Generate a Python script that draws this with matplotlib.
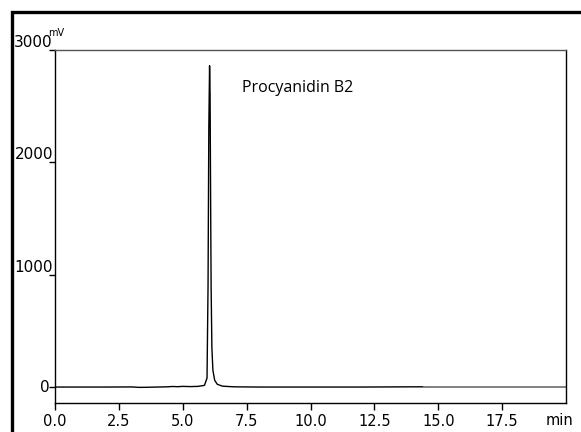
import matplotlib
matplotlib.use("Agg")
import matplotlib.pyplot as plt
from matplotlib.patches import Rectangle

# data (retention time in min, signal in mV)
time_min = [0.0, 1.0, 2.0, 3.0, 3.3, 3.6, 4.0, 4.4, 4.6, 4.8, 5.0, 5.3, 5.6, 5.85,
            5.95, 5.99, 6.02, 6.05, 6.07, 6.09, 6.11, 6.14, 6.18, 6.25, 6.35,
            6.55, 7.0, 8.0, 10.0, 12.0, 14.0, 14.45, 16.0, 18.0, 20.0]
signal_mv = [0, 0, 0, 1, -3, -2, 0, 2, 5, 3, 6, 4, 6, 15,
             80, 900, 2300, 2860, 2600, 1700, 900, 350, 150, 60, 25,
             8, 2, 0, 0, 0, 2, 2, 2, 2, 2]
x_ticks = [0.0, 2.5, 5.0, 7.5, 10.0, 12.5, 15.0, 17.5]
x_tick_labels = ["0.0", "2.5", "5.0", "7.5", "10.0", "12.5", "15.0", "17.5"]
y_ticks = [0, 1000, 2000, 3000]
y_tick_labels = ["0", "1000", "2000", "3000"]
peak_label = "Procyanidin B2"

W, H = 581, 432
fig = plt.figure(figsize=(W / 100, H / 100), dpi=100)
ax = fig.add_axes([55 / W, 1 - 403 / H, (566 - 55) / W, (403 - 50) / H])

# outer frame
fig.patches.append(Rectangle((12 / W, -0.1), 1.2, 1 - 12 / H + 0.1,
                             transform=fig.transFigure, fill=False,
                             edgecolor="black", linewidth=2.4))

split = time_min.index(14.45)
ax.plot(time_min[:split + 1], signal_mv[:split + 1], color="black", linewidth=1.0)
ax.plot(time_min[split:], signal_mv[split:], color="#808080", linewidth=1.4)
ax.set_xlim(0, 20)
ax.set_ylim(-142, 3000)

ax.set_xticks(x_ticks)
ax.set_xticklabels(x_tick_labels, fontsize=10.5, family="DejaVu Sans")
ax.set_yticks(y_ticks)
ax.set_yticklabels(y_tick_labels, fontsize=11, family="DejaVu Sans", va="bottom")
ax.tick_params(axis="x", direction="out", length=5, width=1, pad=3)
ax.tick_params(axis="y", direction="out", length=4, width=1, pad=-2.5)
# the zero label sits centred beside its tick
zero_lbl = ax.get_yticklabels()[0]
zero_lbl.set_va("center")
zero_lbl.set_x(-0.006)

for s in ax.spines.values():
    s.set_linewidth(1.0)
ax.spines["top"].set_color("#555555")

ax.text(0.988, -0.05, "min", transform=ax.transAxes, ha="center", va="center",
        fontsize=10.5, family="DejaVu Sans")
ax.annotate("mV", xy=(0.0, 1.0), xycoords="axes fraction", xytext=(-5, 9),
            textcoords="offset points", ha="left", va="bottom",
            fontsize=7, family="DejaVu Sans")

ax.text(7.30, 2662, peak_label, ha="left", va="center", fontsize=11.5,
        family="Open Sans")

fig.savefig("out.png", dpi=100)
